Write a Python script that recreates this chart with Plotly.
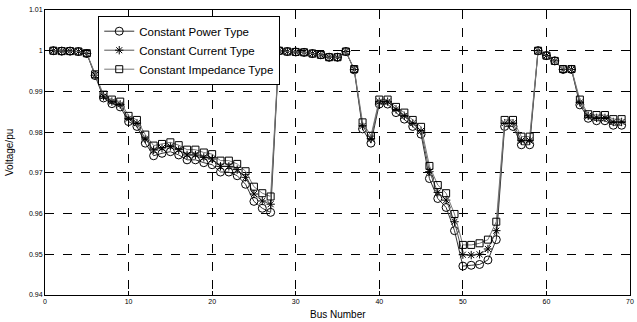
import plotly.graph_objects as go

bus = list(range(1, 70))

v_power = [1.0, 0.9999, 0.9999, 0.9998, 0.9993, 0.9939, 0.9884, 0.9870, 0.9862, 0.9826,
           0.9814, 0.9773, 0.9742, 0.9748, 0.9752, 0.9744, 0.9732, 0.9732, 0.9725, 0.9720,
           0.9702, 0.9702, 0.9693, 0.9672, 0.9630, 0.9613, 0.9603, 1.0, 0.9998, 0.9997,
           0.9996, 0.9993, 0.9990, 0.9984, 0.9984, 0.9998, 0.9953, 0.9808, 0.9773, 0.9869,
           0.9869, 0.9848, 0.9832, 0.9814, 0.9795, 0.9686, 0.9637, 0.9615, 0.9558, 0.9471,
           0.9473, 0.9475, 0.9486, 0.9536, 0.9814, 0.9814, 0.9769, 0.9769, 1.0, 0.9988,
           0.9975, 0.9954, 0.9954, 0.9867, 0.9834, 0.9828, 0.9828, 0.9817, 0.9817]

v_current = [1.0, 0.9999, 0.9999, 0.9998, 0.9993, 0.9940, 0.9888, 0.9875, 0.9868, 0.9833,
             0.9822, 0.9783, 0.9756, 0.9761, 0.9765, 0.9757, 0.9744, 0.9744, 0.9738, 0.9734,
             0.9716, 0.9716, 0.9708, 0.9689, 0.9648, 0.9631, 0.9623, 1.0, 0.9998, 0.9997,
             0.9996, 0.9993, 0.9990, 0.9984, 0.9984, 0.9998, 0.9954, 0.9815, 0.9784, 0.9875,
             0.9875, 0.9856, 0.9840, 0.9822, 0.9803, 0.9703, 0.9652, 0.9633, 0.9580, 0.9499,
             0.9498, 0.9500, 0.9513, 0.9558, 0.9822, 0.9822, 0.9779, 0.9779, 1.0, 0.9988,
             0.9975, 0.9954, 0.9954, 0.9873, 0.9840, 0.9835, 0.9835, 0.9825, 0.9825]

v_impedance = [1.0, 0.9999, 0.9999, 0.9998, 0.9994, 0.9942, 0.9892, 0.9880, 0.9875, 0.9840,
               0.9830, 0.9794, 0.9767, 0.9771, 0.9775, 0.9768, 0.9757, 0.9757, 0.9750, 0.9746,
               0.9730, 0.9730, 0.9722, 0.9704, 0.9666, 0.9650, 0.9642, 1.0, 0.9998, 0.9997,
               0.9996, 0.9993, 0.9990, 0.9984, 0.9984, 0.9998, 0.9955, 0.9824, 0.9791, 0.9880,
               0.9880, 0.9862, 0.9848, 0.9830, 0.9813, 0.9717, 0.9670, 0.9650, 0.9599, 0.9523,
               0.9523, 0.9527, 0.9536, 0.9580, 0.9830, 0.9830, 0.9789, 0.9789, 1.0, 0.9988,
               0.9975, 0.9955, 0.9955, 0.9880, 0.9844, 0.9842, 0.9842, 0.9832, 0.9832]

names = ["Constant Power Type", "Constant Current Type", "Constant Impedance Type"]
series = [v_power, v_current, v_impedance]
symbols = ["circle-open", "asterisk-open", "square-open"]
sizes = [8, 7, 7]
line_colors = ["#333333", "#555555", "#777777"]

fig = go.Figure()
for name, vals, sym, sz, lc in zip(names, series, symbols, sizes, line_colors):
    fig.add_trace(go.Scatter(
        x=bus, y=vals, name=name, mode="lines+markers",
        line=dict(color=lc, width=1),
        marker=dict(symbol=sym, size=sz, color="black", line=dict(color="black", width=1)),
    ))

axis_common = dict(
    showline=True, linecolor="black", linewidth=1, mirror="ticks",
    ticks="inside", ticklen=4, tickcolor="black",
    showgrid=True, gridcolor="black", gridwidth=1, griddash="dash",
    zeroline=False, tickfont=dict(size=7, color="black"), automargin=False,
)

fig.update_layout(
    width=637, height=322,
    margin=dict(l=45, r=7, t=10, b=27),
    paper_bgcolor="white", plot_bgcolor="white",
    font=dict(family="Liberation Sans, Arial, sans-serif", color="black"),
    xaxis=dict(range=[0, 70], dtick=10, **axis_common),
    yaxis=dict(range=[0.94, 1.01], dtick=0.01, **axis_common),
    legend=dict(x=0.091, y=0.98, xanchor="left", yanchor="top",
                bgcolor="white", bordercolor="black", borderwidth=1,
                font=dict(size=11.5, color="black"), tracegroupgap=0,
                itemwidth=30),
    showlegend=True,
    annotations=[
        dict(text="Bus Number", xref="paper", yref="paper", x=0.5, y=0,
             xanchor="center", yanchor="top", yshift=-12, showarrow=False,
             font=dict(size=10, color="black")),
        dict(text="Voltage/pu", xref="paper", yref="paper", x=0, y=0.5,
             xanchor="right", yanchor="middle", xshift=-28, textangle=-90,
             showarrow=False, font=dict(size=10, color="black")),
    ],
)

fig.write_html("out.html", config={"displayModeBar": False},
               post_script="document.body.style.margin='0';document.body.style.overflow='hidden';")
